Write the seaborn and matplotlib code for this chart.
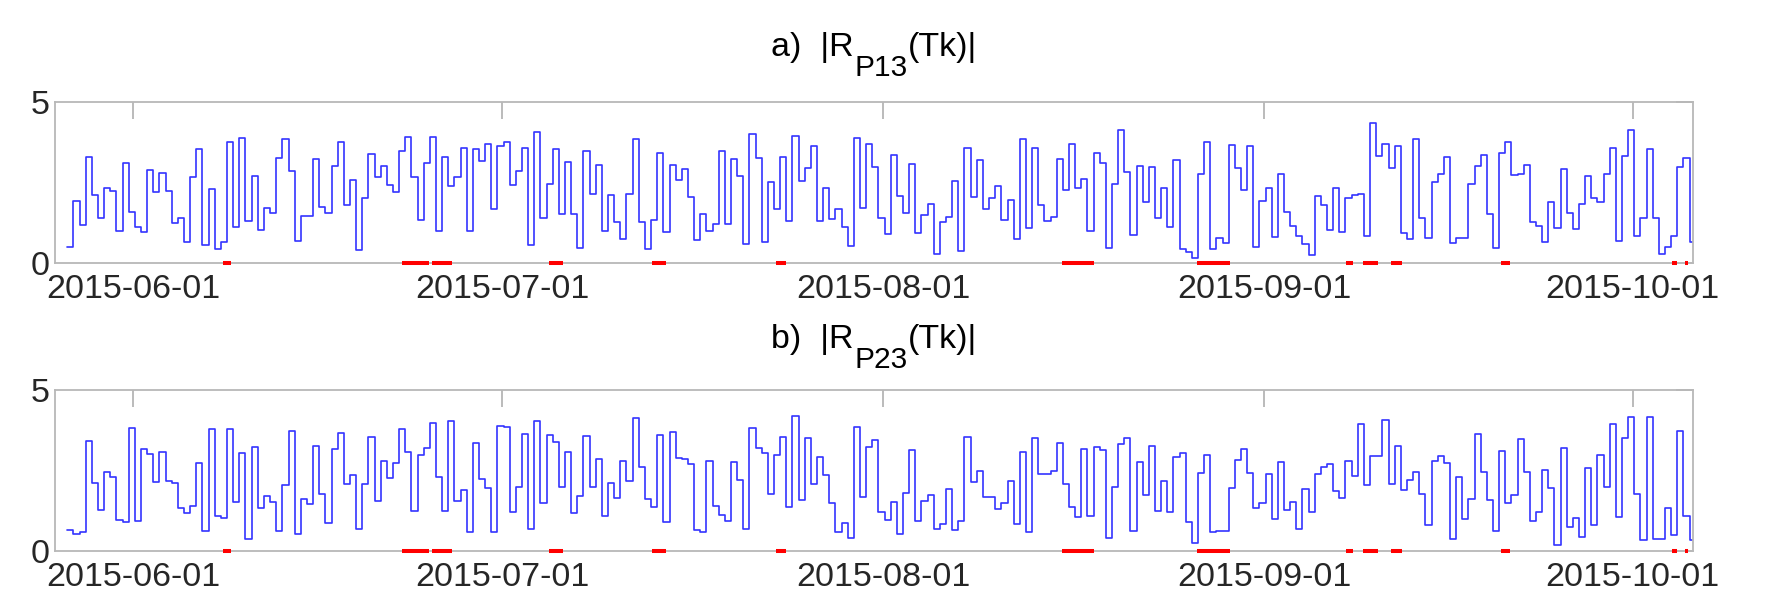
import numpy as np
import pandas as pd
import matplotlib
matplotlib.use("Agg")
import matplotlib.pyplot as plt
import matplotlib.dates as mdates
import matplotlib.transforms as mtransforms
import seaborn as sns

# ---------------- data ----------------
start_time = "2015-05-26 15:00"   # first half-day sample
step = "12h"

r_p13 = [0.52, 1.93, 1.19, 3.30, 2.11, 1.41, 2.34, 2.25, 1.00, 3.10,
         1.58, 1.11, 0.96, 2.90, 2.22, 2.78, 2.25, 1.26, 1.41, 0.67,
         2.67, 3.54, 0.57, 2.29, 0.44, 0.66, 3.76, 1.13, 3.87, 1.31,
         2.70, 1.04, 1.72, 1.57, 3.27, 3.85, 2.86, 0.70, 1.46, 1.46,
         3.22, 1.74, 1.56, 3.01, 3.76, 1.80, 2.57, 0.40, 2.01, 3.37,
         2.68, 3.00, 2.42, 2.22, 3.47, 3.90, 2.68, 1.34, 3.11, 3.91,
         1.01, 3.30, 2.40, 2.68, 3.56, 1.01,
         3.53, 3.16, 3.68, 1.67, 3.64, 3.74, 2.42, 2.87, 3.56, 0.57,
         4.06, 1.39, 2.44, 3.53, 1.52, 3.14, 1.52, 0.46, 3.47, 2.14,
         3.03, 1.01, 2.10, 1.29, 0.74, 2.13, 3.86, 1.29, 0.44, 1.34,
         3.40, 0.98, 3.03, 2.57, 2.91, 2.06, 0.72, 1.52, 1.01, 1.21,
         3.48, 1.21, 3.22, 2.70, 0.61, 4.00, 3.27, 0.67, 2.53, 1.67,
         3.30, 1.32, 3.93, 2.55, 2.94, 3.64, 1.31, 2.32, 1.37, 1.69,
         1.11, 0.55, 3.87, 1.70, 3.68, 2.99,
         1.41, 0.90, 3.35, 2.09, 1.55, 3.08, 0.95, 1.49, 1.82, 0.30,
         1.29, 1.44, 2.55, 0.39, 3.56, 2.06, 3.21, 1.68, 2.01, 2.40,
         1.34, 1.96, 0.75, 3.84, 1.10, 3.56, 1.80, 1.31, 1.43, 3.23,
         2.27, 3.68, 2.32, 2.60, 1.01, 3.40, 3.11, 0.46, 2.44, 4.13,
         2.81, 0.88, 3.01, 1.89, 2.99, 1.39, 2.32, 1.11, 3.19, 0.43,
         0.36, 0.15, 2.76, 3.75, 0.44, 0.77, 0.62, 3.65, 2.94, 2.27,
         3.64, 0.52, 1.93, 2.34, 0.82, 2.75, 1.58,
         1.15, 0.86, 0.61, 0.25, 2.09, 1.79, 1.02, 2.34, 0.96, 2.01,
         2.12, 2.14, 0.84, 4.35, 3.31, 3.68, 2.94, 3.64, 0.93, 0.74,
         3.85, 1.39, 0.77, 2.53, 2.76, 3.29, 0.62, 0.79, 0.79, 2.44,
         3.02, 3.34, 1.53, 0.48, 3.40, 3.74, 2.73, 2.76, 3.05, 1.27,
         1.15, 0.67, 1.89, 1.08, 2.92, 1.55, 1.05, 1.84, 2.70, 2.01,
         1.89, 2.76, 3.58, 0.69, 3.32, 4.11, 0.86, 1.41, 3.53, 1.39,
         0.28, 0.52, 0.84, 2.97, 3.25, 0.67]

r_p23 = [0.64, 0.52, 0.59, 3.42, 2.10, 1.27, 2.44, 2.30, 0.95, 0.90,
         3.81, 0.92, 3.15, 3.01, 2.13, 3.08, 2.17, 2.10, 1.34, 1.16,
         1.40, 2.73, 0.61, 3.79, 1.08, 1.01, 3.79, 1.50, 3.05, 0.35,
         3.22, 1.32, 1.70, 1.52, 0.61, 2.04, 3.72, 0.51, 1.61, 1.45,
         3.27, 1.75, 0.86, 3.15, 3.67, 2.07, 2.35, 0.67, 2.07, 3.53,
         1.55, 2.79, 2.25, 2.72, 3.79, 3.08, 1.23, 2.98, 3.18, 3.98,
         2.28, 1.24, 4.04, 1.56, 1.89, 0.59,
         3.34, 2.22, 1.96, 0.57, 3.89, 3.84, 1.21, 1.97, 3.62, 0.67,
         4.04, 1.49, 3.60, 3.39, 1.97, 3.08, 1.18, 1.70, 3.58, 1.99,
         2.85, 1.09, 2.12, 1.63, 2.80, 2.17, 4.12, 2.59, 1.61, 1.37,
         3.60, 0.90, 3.68, 2.87, 2.84, 2.70, 0.64, 0.59, 2.80, 1.40,
         1.11, 0.92, 2.75, 2.20, 0.67, 3.83, 3.18, 3.03, 1.75, 2.98,
         3.55, 1.35, 4.20, 1.58, 3.52, 2.06, 2.90, 2.35, 1.47, 0.57,
         0.85, 0.38, 3.86, 1.68, 3.22, 3.44,
         1.21, 0.95, 1.50, 0.51, 1.78, 3.12, 0.93, 1.55, 1.73, 0.67,
         0.83, 1.92, 0.64, 0.93, 3.53, 2.15, 2.49, 1.66, 1.66, 1.30,
         1.47, 2.18, 0.83, 3.08, 0.59, 3.52, 2.39, 2.39, 2.48, 3.34,
         2.07, 1.35, 1.04, 3.15, 1.08, 3.22, 3.13, 0.38, 1.99, 3.32,
         3.50, 0.61, 2.75, 1.73, 3.27, 1.24, 2.18, 1.21, 2.90, 3.05,
         0.88, 0.25, 2.41, 2.98, 0.59, 0.62, 0.62, 1.96, 2.82, 3.15,
         2.41, 1.32, 1.47, 2.38, 0.99, 2.75, 1.27,
         1.50, 0.69, 1.92, 1.21, 2.39, 2.59, 2.70, 1.86, 1.63, 2.79,
         2.32, 3.94, 2.04, 2.96, 2.96, 4.07, 2.07, 3.27, 1.89, 2.20,
         2.46, 1.75, 0.80, 2.79, 2.96, 2.74, 0.36, 2.28, 0.99, 1.61,
         3.62, 2.44, 1.58, 0.61, 3.11, 1.47, 1.73, 3.46, 2.44, 0.92,
         1.19, 2.51, 1.96, 0.18, 3.21, 0.73, 1.03, 0.44, 2.56, 0.80,
         2.98, 1.97, 3.94, 1.04, 3.50, 4.15, 1.75, 0.33, 4.17, 0.36,
         0.35, 1.32, 0.49, 3.72, 1.09, 0.33]

# red event periods, in days after 2015-06-01
event_ref = "2015-06-01"
event_start = [7.32, 21.84, 24.33, 33.85, 42.23, 52.27, 75.54, 86.58,
               98.65, 100.03, 102.34, 111.30, 125.22, 126.23]
event_end = [7.95, 24.06, 25.90, 34.99, 43.32, 53.08, 78.17, 89.24,
             99.22, 101.25, 103.20, 112.00, 125.58, 126.52]

# title pieces: prefix, subscript, suffix
title_parts = [("a)  |R", "P13", "(Tk)|"), ("b)  |R", "P23", "(Tk)|")]
x_range = ("2015-05-25 15:00", "2015-10-05 22:20")
y_ticks = [0, 5]

# ---------------- style ----------------
sns.set_style("white")
plt.rcParams["font.family"] = ["Liberation Sans", "DejaVu Sans"]

fig = plt.figure(figsize=(17.68, 5.92), dpi=100)
ax1 = fig.add_axes([0.0311, 0.5552, 0.9267, 0.2730])
ax2 = fig.add_axes([0.0311, 0.0698, 0.9267, 0.2714])

ref = pd.Timestamp(event_ref)
ev_s = mdates.date2num([ref + pd.Timedelta(days=d) for d in event_start])
ev_e = mdates.date2num([ref + pd.Timedelta(days=d) for d in event_end])

for ax, vals in [(ax1, r_p13), (ax2, r_p23)]:
    t = pd.date_range(start_time, periods=len(vals) + 1, freq=step)
    df = pd.DataFrame({"t": t, "v": list(vals) + [vals[-1]]})
    sns.lineplot(data=df, x="t", y="v", ax=ax, drawstyle="steps-post",
                 color="#3434ff", lw=1.2, estimator=None)
    ax.hlines(np.zeros(len(ev_s)), ev_s, ev_e, colors="#ff0000", lw=2.9,
              zorder=6, clip_on=False, capstyle="butt")
    ax.set_ylim(0, 5)
    ax.set_yticks(y_ticks)
    ax.set_xlim(pd.Timestamp(x_range[0]), pd.Timestamp(x_range[1]))
    ax.xaxis.set_major_locator(mdates.MonthLocator())
    ax.xaxis.set_major_formatter(mdates.DateFormatter("%Y-%m-%d"))
    ax.set_xlabel("")
    ax.set_ylabel("")
    ax.tick_params(axis="x", direction="in", length=12, width=1.1,
                   color="#a8a8a8", top=True, labelsize=24.5, pad=8)
    ax.tick_params(axis="y", direction="in", length=12, width=1.1,
                   color="#a8a8a8", right=True, labelsize=24.5, pad=4)
    for sp in ax.spines.values():
        sp.set_visible(True)
        sp.set_color("#b8b8b8")
        sp.set_linewidth(1.3)

# ---------------- titles with a large, dropped subscript ----------------
fig.canvas.draw()
renderer = fig.canvas.get_renderer()
main_size, sub_size, sub_drop = 24.5, 21.5, 20
for ax, (pre, sub, suf), base_px in [(ax1, title_parts[0], 46), (ax2, title_parts[1], 42)]:
    pieces = [(pre, main_size, 0), (sub, sub_size, -sub_drop), (suf, main_size, 0)]
    texts = []
    for s, size, dy in pieces:
        txt = ax.text(0.5, 1.0, s, transform=ax.transAxes, fontsize=size,
                      ha="left", va="baseline", color="black")
        texts.append((txt, dy))
    widths = [tx.get_window_extent(renderer).width for tx, _ in texts]
    total = sum(widths) + 1.5
    x0 = -total / 2.0
    for (tx, dy), w in zip(texts, widths):
        tx.set_transform(mtransforms.offset_copy(ax.transAxes, fig=fig, x=x0,
                                                 y=base_px + dy, units="dots"))
        x0 += w + 0.75

fig.savefig("out.png", dpi=100)
